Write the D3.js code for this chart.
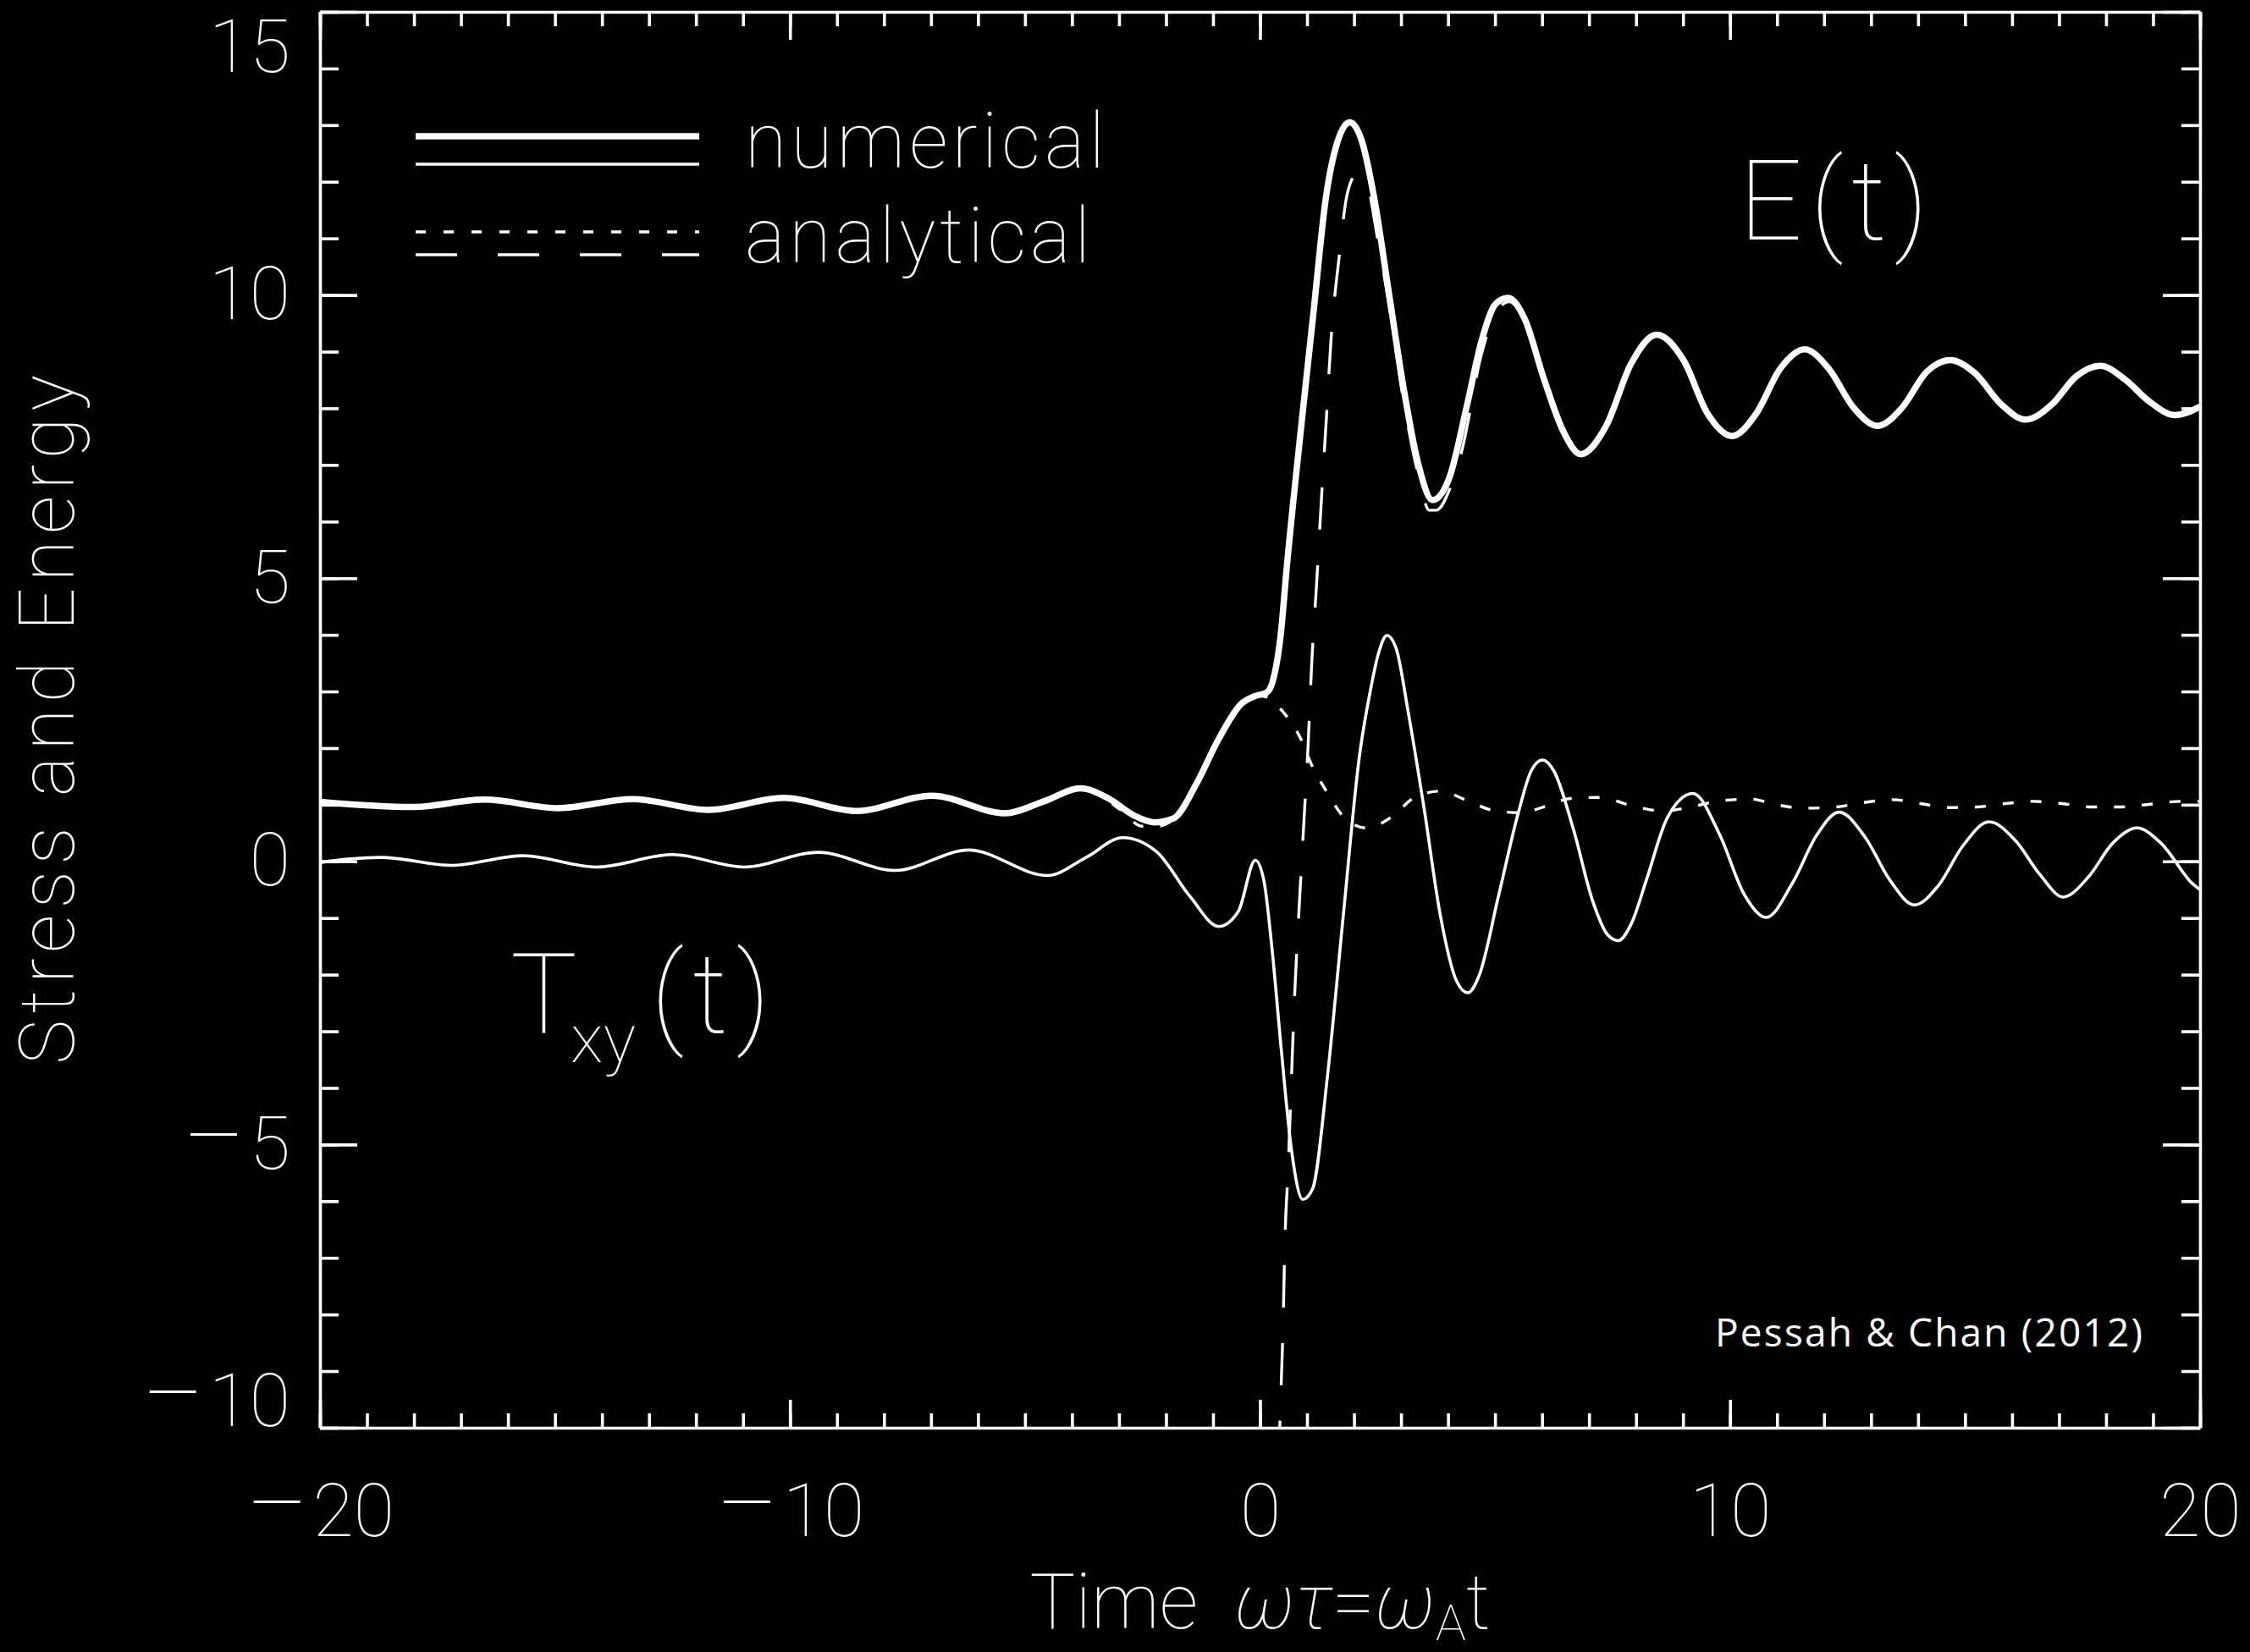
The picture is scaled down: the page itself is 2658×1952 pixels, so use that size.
<!DOCTYPE html>
<html>
<head>
<meta charset="utf-8">
<script src="https://cdn.jsdelivr.net/npm/d3@7"></script>
<style>
  html, body { margin: 0; padding: 0; background: #000; }
  svg { display: block; }
</style>
</head>
<body>
<svg id="chart" width="2658" height="1952"></svg>
<script>
// ---------------- DATA ----------------
const xMajorTicks = [-20, -10, 0, 10, 20];
const yMajorTicks = [-10, -5, 0, 5, 10, 15];
const xMinorTicks = d3.range(-20, 21, 1);
const yMinorTicks = d3.range(-10, 16, 1);

const legendLabels = ["numerical", "analytical"];
const curveLabels = ["E(t)", "T", "xy", "(t)"];
const xTitle = ["Time", "ωτ", "=", "ω", "A", "t"];
const yTitle = "Stress and Energy";
const credit = "Pessah & Chan (2012)";

// numerical energy E(t) (thick solid)
const energyNumTime  = [-20, -18.04, -16.49, -14.94, -13.34, -11.73, -10.13, -8.58, -6.98, -5.43, -4.60, -3.82, -3.22, -2.68, -2.26, -1.84, -1.36, -0.88, -0.40, -0.10, 0.14, 0.26, 0.44, 0.57, 0.88, 1.14, 1.40, 1.65, 1.91, 2.17, 2.43, 2.74, 3.05, 3.36, 3.67, 4.03, 4.40, 4.71, 5.02, 5.28, 5.63, 6.04, 6.46, 6.82, 7.37, 7.89, 8.44, 9.01, 9.52, 10.04, 10.56, 11.07, 11.59, 12.10, 12.63, 13.14, 13.66, 14.18, 14.69, 15.21, 15.77, 16.29, 16.85, 17.36, 17.88, 18.40, 18.92, 19.47, 20];
const energyNumValue = [1.05, 0.96, 1.09, 0.94, 1.10, 0.91, 1.12, 0.89, 1.16, 0.85, 1.06, 1.29, 1.11, 0.81, 0.69, 0.76, 1.36, 2.16, 2.78, 2.92, 2.98, 3.15, 4.00, 5.20, 7.71, 9.71, 11.71, 12.71, 13.05, 12.71, 11.71, 10.05, 8.38, 7.04, 6.38, 6.78, 8.04, 9.18, 9.85, 9.95, 9.58, 8.52, 7.58, 7.19, 7.70, 8.78, 9.30, 8.85, 7.91, 7.51, 7.91, 8.70, 9.04, 8.70, 8.01, 7.69, 8.01, 8.64, 8.85, 8.62, 8.07, 7.80, 8.07, 8.56, 8.75, 8.51, 8.12, 7.88, 8.03];

// numerical stress T_xy(t) (thin solid)
const stressNumTime  = [-20, -19.4, -18.7, -17.2, -15.68, -14.12, -12.5, -10.98, -9.4, -7.76, -6.2, -4.52, -3.70, -2.92, -2.20, -1.48, -0.88, -0.46, -0.10, 0.08, 0.25, 0.45, 0.67, 0.91, 1.12, 1.43, 1.77, 2.12, 2.33, 2.53, 2.70, 2.90, 3.15, 3.49, 3.84, 4.18, 4.42, 4.66, 5.08, 5.49, 5.77, 6.01, 6.25, 6.67, 7.07, 7.40, 7.62, 7.90, 8.22, 8.66, 9.21, 9.78, 10.30, 10.77, 11.33, 11.85, 12.32, 12.88, 13.40, 13.92, 14.43, 14.95, 15.51, 16.07, 16.59, 17.09, 17.62, 18.14, 18.66, 19.17, 19.86, 20];
const stressNumValue = [-0.02, 0.04, 0.07, -0.07, 0.10, -0.10, 0.12, -0.10, 0.16, -0.16, 0.20, -0.25, 0.07, 0.42, 0.17, -0.63, -1.15, -0.88, 0.02, -0.33, -1.50, -3.30, -5.10, -5.97, -5.78, -3.83, -0.97, 1.89, 2.94, 3.70, 3.99, 3.75, 2.65, 0.94, -0.97, -2.11, -2.32, -2.02, -0.59, 0.84, 1.60, 1.79, 1.60, 0.56, -0.68, -1.30, -1.40, -1.10, -0.33, 0.76, 1.20, 0.47, -0.58, -0.99, -0.38, 0.47, 0.87, 0.42, -0.33, -0.77, -0.43, 0.27, 0.70, 0.37, -0.23, -0.63, -0.28, 0.32, 0.59, 0.32, -0.41, -0.50];

// analytical energy, early-time solution (short dashes)
const energyEarlyTime  = [-20, -18.04, -16.49, -14.94, -13.34, -11.73, -10.13, -8.58, -6.98, -5.43, -4.60, -3.82, -3.22, -2.97, -2.50, -2.20, -1.84, -1.36, -0.88, -0.40, -0.10, 0.14, 0.30, 0.50, 0.87, 1.10, 1.42, 1.80, 2.27, 2.81, 3.29, 3.84, 4.39, 5.01, 5.56, 6.10, 6.60, 7.20, 8.01, 8.58, 9.17, 9.78, 10.43, 10.99, 11.59, 12.24, 12.85, 13.45, 14.05, 14.65, 15.26, 15.86, 16.46, 17.06, 17.71, 18.31, 18.95, 19.59, 20];
const energyEarlyValue = [1.05, 0.96, 1.09, 0.94, 1.10, 0.91, 1.12, 0.89, 1.16, 0.85, 1.06, 1.29, 1.06, 0.91, 0.62, 0.62, 0.74, 1.34, 2.15, 2.78, 2.93, 2.90, 2.80, 2.63, 2.16, 1.70, 1.23, 0.77, 0.59, 0.79, 1.13, 1.24, 1.08, 0.89, 0.86, 0.98, 1.11, 1.13, 0.96, 0.89, 0.96, 1.07, 1.10, 1.00, 0.94, 0.96, 1.04, 1.09, 1.02, 0.95, 0.96, 1.02, 1.06, 1.02, 0.96, 0.96, 1.01, 1.06, 1.06];

// analytical energy, late-time solution (long dashes)
const energyLateTime  = [0.36, 0.42, 0.49, 0.53, 0.60, 0.67, 0.74, 0.83, 0.92, 1.02, 1.10, 1.20, 1.30, 1.41, 1.51, 1.68, 1.86, 2.07, 2.28, 2.50, 2.74, 3.05, 3.36, 3.60, 3.75, 4.04, 4.29, 4.71, 5.02, 5.30, 5.63, 6.04, 6.46, 6.82, 7.37, 7.89, 8.44, 9.01, 9.52, 10.04, 10.56, 11.07, 11.59, 12.10, 12.63, 13.14, 13.66, 14.18, 14.69, 15.21, 15.77, 16.29, 16.85, 17.36, 17.88, 18.40, 18.92, 19.47, 20];
const energyLateValue = [-12.0, -10.0, -8.2, -6.7, -5.4, -3.8, -2.3, -0.85, 0.5, 2.0, 3.5, 4.85, 6.3, 7.8, 9.2, 10.65, 11.8, 12.15, 11.95, 11.0, 9.85, 8.15, 6.85, 6.2, 6.2, 6.58, 7.24, 8.95, 9.7, 9.88, 9.55, 8.52, 7.58, 7.19, 7.70, 8.78, 9.30, 8.85, 7.91, 7.51, 7.91, 8.70, 9.04, 8.70, 8.01, 7.69, 8.01, 8.64, 8.85, 8.62, 8.07, 7.80, 8.07, 8.56, 8.75, 8.51, 8.12, 7.88, 8.03];

// ---------------- CHART ----------------
const W = 2658, H = 1952;
const plot = { left: 378, right: 2599, top: 14, bottom: 1687 };
const FONT = "Roboto, 'DejaVu Sans', sans-serif";
const WHITE = "#ffffff";

const x = d3.scaleLinear().domain([-20, 20]).range([plot.left, plot.right]);
const y = d3.scaleLinear().domain([-10, 15]).range([plot.bottom, plot.top]);

const svg = d3.select("#chart");
svg.append("rect").attr("width", W).attr("height", H).attr("fill", "#000");

const defs = svg.append("defs");
defs.append("clipPath").attr("id", "plotclip")
  .append("rect")
  .attr("x", plot.left).attr("y", plot.top)
  .attr("width", plot.right - plot.left).attr("height", plot.bottom - plot.top);

function styleAxis(g, showDomain) {
  g.attr("font-family", FONT).attr("font-size", 88).attr("font-weight", 100);
  g.selectAll("path.domain").attr("stroke", WHITE).attr("stroke-width", 3.6)
    .attr("display", showDomain ? null : "none");
  g.selectAll(".tick line").attr("stroke", WHITE).attr("stroke-width", 3.6);
  g.selectAll(".tick text").attr("fill", WHITE);
}

// long-minus tick labels in the style of the original
function longMinus(g) {
  g.selectAll(".tick text").each(function (d) {
    const t = d3.select(this);
    if (d < 0) {
      t.text(null);
      t.append("tspan").attr("font-size", 112).text("\u2013");
      t.append("tspan").attr("dx", 6).text(String(Math.abs(d)));
    } else {
      t.text(String(d));
    }
  });
}

// bottom
svg.append("g").attr("transform", `translate(0,${plot.bottom})`)
  .call(d3.axisBottom(x).tickValues(xMinorTicks).tickSize(-17).tickSizeOuter(0).tickFormat(""))
  .call(g => styleAxis(g, false));
svg.append("g").attr("transform", `translate(0,${plot.bottom})`)
  .call(d3.axisBottom(x).tickValues(xMajorTicks).tickSize(-33).tickSizeOuter(0).tickPadding(66))
  .call(g => styleAxis(g, true))
  .call(longMinus);
// top
svg.append("g").attr("transform", `translate(0,${plot.top})`)
  .call(d3.axisTop(x).tickValues(xMinorTicks).tickSize(-17).tickSizeOuter(0).tickFormat(""))
  .call(g => styleAxis(g, false));
svg.append("g").attr("transform", `translate(0,${plot.top})`)
  .call(d3.axisTop(x).tickValues(xMajorTicks).tickSize(-33).tickSizeOuter(0).tickFormat(""))
  .call(g => styleAxis(g, true));
// left
svg.append("g").attr("transform", `translate(${plot.left},0)`)
  .call(d3.axisLeft(y).tickValues(yMinorTicks).tickSize(-22).tickSizeOuter(0).tickFormat(""))
  .call(g => styleAxis(g, false));
svg.append("g").attr("transform", `translate(${plot.left},0)`)
  .call(d3.axisLeft(y).tickValues(yMajorTicks).tickSize(-44).tickSizeOuter(0).tickPadding(35))
  .call(g => styleAxis(g, true))
  .call(longMinus)
  .call(g => g.selectAll(".tick text")
    .attr("y", d => d === 15 ? 42 : d === -10 ? -31 : 0));
// right
svg.append("g").attr("transform", `translate(${plot.right},0)`)
  .call(d3.axisRight(y).tickValues(yMinorTicks).tickSize(-22).tickSizeOuter(0).tickFormat(""))
  .call(g => styleAxis(g, false));
svg.append("g").attr("transform", `translate(${plot.right},0)`)
  .call(d3.axisRight(y).tickValues(yMajorTicks).tickSize(-44).tickSizeOuter(0).tickFormat(""))
  .call(g => styleAxis(g, true));

// curves
const zip = (ts, vs) => ts.map((t, i) => [t, vs[i]]);
const line = d3.line().x(d => x(d[0])).y(d => y(d[1])).curve(d3.curveMonotoneX);
const curves = svg.append("g").attr("clip-path", "url(#plotclip)")
  .attr("fill", "none").attr("stroke", WHITE);

const series = [
  { data: zip(energyEarlyTime, energyEarlyValue), width: 3.4, dash: "13,20" },
  { data: zip(energyLateTime, energyLateValue), width: 3.4, dash: "50,42" },
  { data: zip(stressNumTime, stressNumValue), width: 3.6, dash: null },
  { data: zip(energyNumTime, energyNumValue), width: 7.5, dash: null }
];
curves.selectAll("path").data(series).join("path")
  .attr("d", d => line(d.data))
  .attr("stroke-width", d => d.width)
  .attr("stroke-dasharray", d => d.dash)
  .attr("stroke-linejoin", "round");

// legend
const legend = svg.append("g").attr("stroke", WHITE).attr("fill", "none");
const legendLines = [
  { y: 161, width: 7.5, dash: null },
  { y: 194, width: 3.6, dash: null },
  { y: 274, width: 3.6, dash: "12,21" },
  { y: 301, width: 3.6, dash: "49,48" }
];
legend.selectAll("line").data(legendLines).join("line")
  .attr("x1", 491).attr("x2", 826)
  .attr("y1", d => d.y).attr("y2", d => d.y)
  .attr("stroke-width", d => d.width)
  .attr("stroke-dasharray", d => d.dash);

const txt = svg.append("g").attr("fill", WHITE).attr("font-family", FONT).attr("font-weight", 100);
txt.append("text").attr("x", 880).attr("y", 198).attr("font-size", 90)
  .attr("textLength", 425).text(legendLabels[0]);
txt.append("text").attr("x", 880).attr("y", 310).attr("font-size", 90)
  .attr("textLength", 408).text(legendLabels[1]);

// curve labels
txt.append("text").attr("x", 2054).attr("y", 283).attr("font-size", 132)
  .attr("textLength", 224).text(curveLabels[0]);
txt.append("text").attr("x", 603).attr("y", 1220).attr("font-size", 132).text(curveLabels[1]);
txt.append("text").attr("x", 674).attr("y", 1255).attr("font-size", 80)
  .attr("textLength", 77).text(curveLabels[2]);
txt.append("text").attr("x", 769).attr("y", 1220).attr("font-size", 132)
  .attr("textLength", 141).text(curveLabels[3]);

// axis titles
const xt = txt.append("text").attr("x", (plot.left + plot.right) / 2).attr("y", 1924)
  .attr("font-size", 90).attr("text-anchor", "middle");
xt.append("tspan").text(xTitle[0] + "\u00a0\u00a0");
xt.append("tspan").attr("font-style", "italic").text(xTitle[1]);
xt.append("tspan").text(xTitle[2]);
xt.append("tspan").attr("font-style", "italic").text(xTitle[3]);
xt.append("tspan").attr("font-size", 60).attr("dy", 14).text(xTitle[4]);
xt.append("tspan").attr("dy", -14).text(xTitle[5]);

txt.append("text")
  .attr("transform", `translate(87,${(plot.top + plot.bottom) / 2}) rotate(-90)`)
  .attr("text-anchor", "middle").attr("font-size", 90)
  .attr("textLength", 815).text(yTitle);

// credit
svg.append("text").attr("x", 2531).attr("y", 1591).attr("text-anchor", "end")
  .attr("fill", WHITE).attr("font-family", "'Open Sans', 'DejaVu Sans', sans-serif")
  .attr("font-size", 46).attr("textLength", 505).text(credit);
</script>
</body>
</html>
